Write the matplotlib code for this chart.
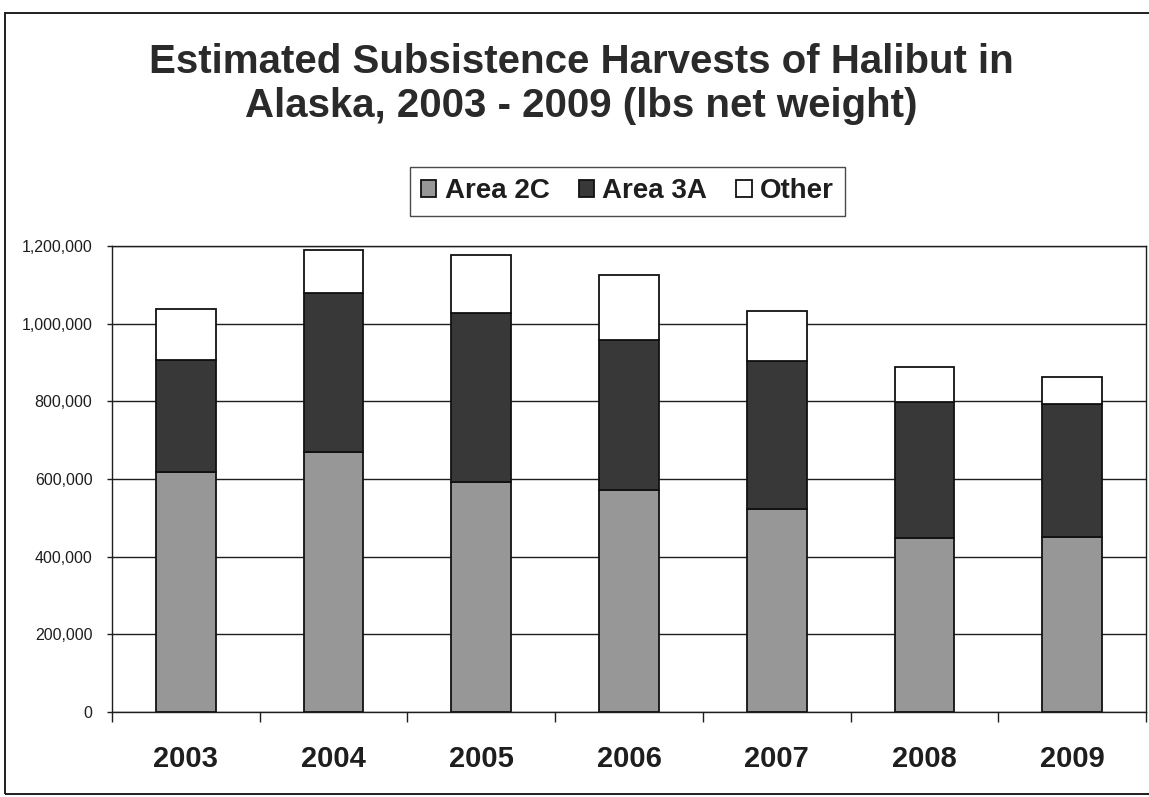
import numpy as np
import matplotlib
matplotlib.use("Agg")
import matplotlib.pyplot as plt
from matplotlib.ticker import FuncFormatter
from matplotlib.patches import Rectangle

# values (lbs net weight)
years = ["2003", "2004", "2005", "2006", "2007", "2008", "2009"]
area_2c = [617000, 669000, 591000, 571000, 522000, 448000, 450000]
area_3a = [289000, 411000, 437000, 388000, 382000, 350000, 342000]
other = [132000, 109000, 150000, 167000, 129000, 91000, 71000]
y_ticks = [0, 200000, 400000, 600000, 800000, 1000000, 1200000]

plt.rcParams["font.family"] = ["Liberation Sans", "DejaVu Sans"]
plt.rcParams["text.color"] = "#1e1e1e"

W, H = 1149, 797
fig = plt.figure(figsize=(W / 100, H / 100), dpi=100, facecolor="white")

# plot area in pixel coords of the reference
left, right, top, bottom = 112, 1146, 246, 712
ax = fig.add_axes([left / W, 1 - bottom / H, (right - left) / W, (bottom - top) / H])

x = np.arange(len(years))
a2c = np.array(area_2c)
a3a = np.array(area_3a)
oth = np.array(other)
bw = 0.405

ax.bar(x, a2c, bw, color="#979797", edgecolor="#111111", linewidth=1.3, label="Area 2C", zorder=3)
ax.bar(x, a3a, bw, bottom=a2c, color="#383838", edgecolor="#111111", linewidth=1.3, label="Area 3A", zorder=3)
ax.bar(x, oth, bw, bottom=a2c + a3a, color="white", edgecolor="#111111", linewidth=1.3, label="Other", zorder=3)

ax.set_xlim(-0.5, len(years) - 0.5)
ax.set_ylim(0, 1200000)
ax.set_yticks(y_ticks)
ax.yaxis.set_major_formatter(FuncFormatter(lambda v, p: f"{int(v):,}"))
ax.tick_params(axis="y", length=3.6, width=1, pad=10.5, labelsize=11.5, colors="#1e1e1e", direction="out")

ax.set_xticks(x)
ax.set_xticklabels(years, fontsize=21, fontweight="bold")
ax.set_xticks(np.arange(-0.5, len(years), 1), minor=True)
ax.tick_params(axis="x", which="major", length=0, pad=24, colors="#1e1e1e")
ax.tick_params(axis="x", which="minor", length=7, width=1, direction="out", color="#1e1e1e")

ax.grid(axis="y", color="#1e1e1e", linewidth=1.0)
ax.set_axisbelow(True)
for s in ax.spines.values():
    s.set_color("#1e1e1e")
    s.set_linewidth(1.0)

# title, two lines
fig.text(581 / W, 1 - 73 / H, "Estimated Subsistence Harvests of Halibut in",
         ha="center", va="baseline", fontsize=29, fontweight="bold", color="#2a2a2a")
fig.text(581 / W, 1 - 117 / H, "Alaska, 2003 - 2009 (lbs net weight)",
         ha="center", va="baseline", fontsize=29, fontweight="bold", color="#2a2a2a")

leg = fig.legend(loc="center", bbox_to_anchor=(627.5 / W, 1 - 191.5 / H), ncol=3,
                 fontsize=20, frameon=True, fancybox=False, handlelength=0.55, handleheight=0.55,
                 handletextpad=0.3, columnspacing=1.05, borderpad=0.4, borderaxespad=0)
leg.get_frame().set_edgecolor("#1e1e1e")
leg.get_frame().set_linewidth(1.0)
for t in leg.get_texts():
    t.set_fontweight("bold")

# outer chart frame
fig.patches.append(Rectangle((5 / W, 3 / H), 1.2, (794 - 13) / H, transform=fig.transFigure,
                             fill=False, edgecolor="#1e1e1e", linewidth=1.4))

fig.savefig("out.png", dpi=100, facecolor="white")
